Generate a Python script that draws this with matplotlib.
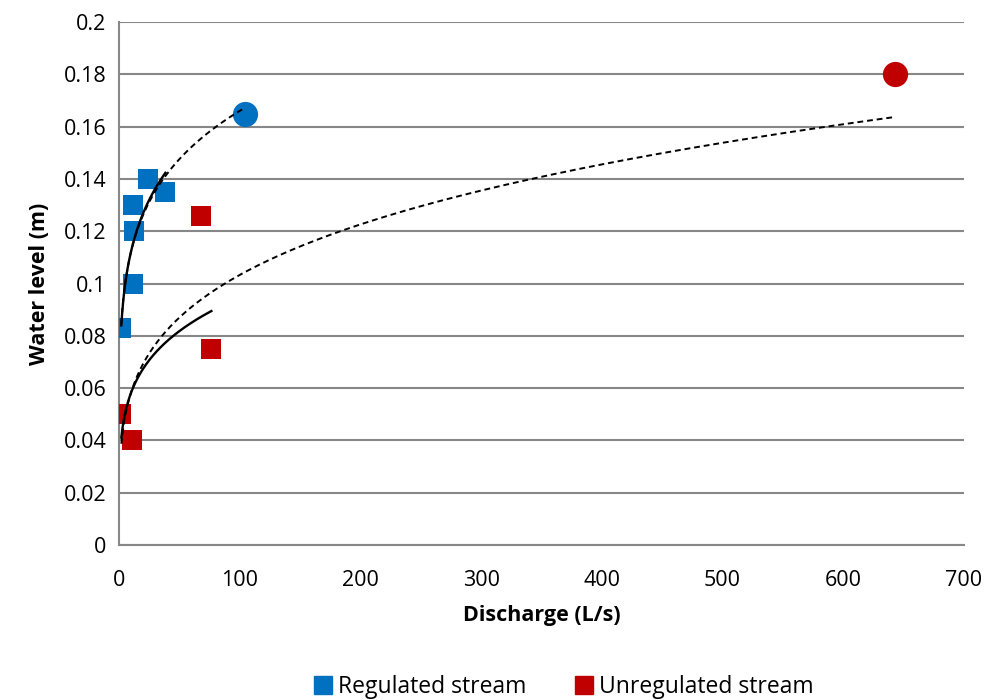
import numpy as np
import matplotlib.pyplot as plt
from matplotlib.lines import Line2D

plt.rcParams['font.family'] = ['Open Sans', 'DejaVu Sans']

# regulated stream: small-flow gaugings (squares) and the high-flow point (circle)
reg_q = [1.9, 11.9, 12.7, 11.3, 24.3, 38.4]
reg_h = [0.083, 0.100, 0.120, 0.130, 0.140, 0.135]
reg_peak_q = [104.5]
reg_peak_h = [0.165]

# unregulated stream
unreg_q = [1.9, 10.5, 68.2, 76.5]
unreg_h = [0.050, 0.040, 0.126, 0.075]
unreg_peak_q = [643.0]
unreg_peak_h = [0.180]

blue = '#0070C0'
red = '#C00000'
grid_col = '#878787'


def power_fit(q, h):
    # least squares on log-log, like a spreadsheet power trendline
    p, lnc = np.polyfit(np.log(q), np.log(h), 1)
    xs = np.linspace(min(q), max(q), 300)
    return xs, np.exp(lnc) * xs ** p


fig = plt.figure(figsize=(9.87, 7.0), dpi=100)
ax = fig.add_axes([0.1206, 0.2214, 0.8561, 0.7472])

ax.scatter(reg_q, reg_h, marker='s', s=200, color=blue, zorder=3, linewidths=0)
ax.scatter(reg_peak_q, reg_peak_h, marker='o', s=330, color=blue, zorder=3, linewidths=0)
ax.scatter(unreg_q, unreg_h, marker='s', s=200, color=red, zorder=3, linewidths=0)
ax.scatter(unreg_peak_q, unreg_peak_h, marker='o', s=330, color=red, zorder=3, linewidths=0)

# trendlines: squares only (solid) and all points (dashed)
for q, h, pq, ph in [(reg_q, reg_h, reg_peak_q, reg_peak_h),
                     (unreg_q, unreg_h, unreg_peak_q, unreg_peak_h)]:
    xs, ys = power_fit(q, h)
    ax.plot(xs, ys, color='black', lw=1.7, zorder=4)
    xs, ys = power_fit(q + pq, h + ph)
    ax.plot(xs, ys, color='black', lw=1.4, ls=(0, (3, 2)), zorder=4)

ax.set_xlim(0, 700)
ax.set_ylim(0, 0.2)
ax.set_xticks(np.arange(0, 701, 100))
ax.set_yticks(np.arange(0, 0.201, 0.02))
ax.set_yticklabels(['0', '0.02', '0.04', '0.06', '0.08', '0.1', '0.12', '0.14',
                    '0.16', '0.18', '0.2'])
ax.tick_params(length=0, labelsize=15.5, colors='black')
ax.tick_params(axis='x', pad=18)
ax.tick_params(axis='y', pad=9)
ax.yaxis.grid(True, color=grid_col, lw=1.5)
ax.set_axisbelow(True)
for side in ['top', 'right']:
    ax.spines[side].set_visible(False)
for side in ['left', 'bottom']:
    ax.spines[side].set_color(grid_col)
    ax.spines[side].set_linewidth(1.5)

ax.set_xlabel('Discharge (L/s)', fontsize=15.5, fontweight='bold', labelpad=10)
ax.set_ylabel('Water level (m)', fontsize=15.5, fontweight='bold', labelpad=10)

handles = [Line2D([], [], marker='s', ls='', color=blue, markersize=13),
           Line2D([], [], marker='s', ls='', color=red, markersize=13)]
fig.legend(handles, ['Regulated stream', 'Unregulated stream'], loc='center',
           bbox_to_anchor=(0.570, 0.019), ncol=2, frameon=False, fontsize=16.5,
           handletextpad=0.15, columnspacing=2.0, handlelength=1.0)

fig.savefig('out.png', dpi=100)
